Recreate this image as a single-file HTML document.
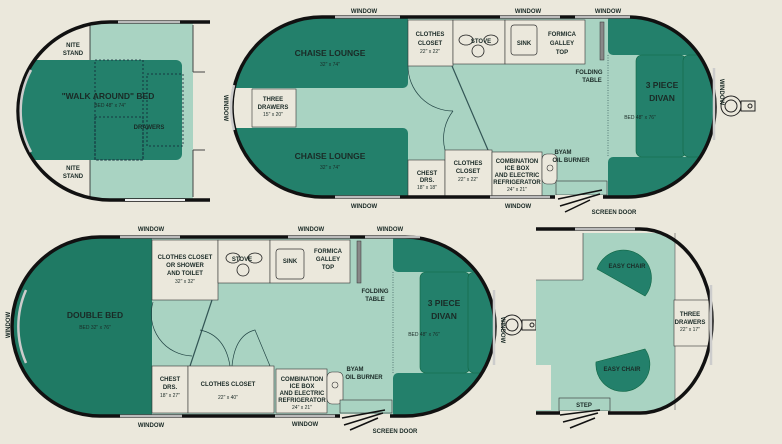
<!DOCTYPE html>
<html><head><meta charset="utf-8"><style>
html,body{margin:0;padding:0;background:#ebe8dc;}
svg{display:block}
text{font-family:"Liberation Sans",sans-serif;font-weight:bold;fill:#1a2a26;text-anchor:middle}
.s{font-size:6px}.m{font-size:8.5px}.t{font-size:5px;font-weight:normal}
</style></head><body>
<svg width="782" height="444" viewBox="0 0 782 444" xmlns="http://www.w3.org/2000/svg">
<rect width="782" height="444" fill="#ebe8dc"/>
<defs>
<clipPath id="c1"><path d="M210 22 L110 22 A92 89 0 0 0 110 200 L210 200 Z"/></clipPath>
<clipPath id="c2"><path d="M322 17 L628 17 A87 90 0 0 1 628 197 L322 197 A90 90 0 0 1 322 17 Z"/></clipPath>
<clipPath id="c3"><path d="M100 237 L405 237 A90 89.5 0 0 1 405 416 L100 416 A88 89.5 0 0 1 100 237 Z"/></clipPath>
<clipPath id="c4"><path d="M536 229 L640 229 A72 92 0 0 1 640 413 L536 413 Z"/></clipPath>
</defs>

<!-- PLAN 1 -->
<g clip-path="url(#c1)">
<rect x="0" y="0" width="210" height="220" fill="#ebe8dc"/>
<rect x="90" y="22" width="103" height="178" fill="#a9d3c2"/>
<rect x="20" y="60" width="162" height="100" rx="6" fill="#23806b"/>
<rect x="20" y="60" width="30" height="100" fill="#23806b"/>
</g>
<line x1="90" y1="25" x2="90" y2="60" stroke="#222" stroke-width="0.8"/>
<line x1="90" y1="160" x2="90" y2="197" stroke="#222" stroke-width="0.8"/>
<rect x="95" y="60" width="48" height="100" fill="none" stroke="#123" stroke-dasharray="2,2" stroke-width="0.8"/>
<rect x="95" y="117" width="48" height="43" fill="none" stroke="#123" stroke-dasharray="2,2" stroke-width="0.8"/>
<rect x="147" y="74" width="36" height="72" fill="none" stroke="#123" stroke-dasharray="2,2" stroke-width="0.8"/>
<line x1="193" y1="25" x2="193" y2="72" stroke="#444"/><line x1="193" y1="72" x2="205" y2="72" stroke="#444"/>
<line x1="193" y1="150" x2="193" y2="197" stroke="#444"/><line x1="193" y1="150" x2="205" y2="150" stroke="#444"/>
<path d="M210 22 L110 22 A92 89 0 0 0 110 200 L210 200" fill="none" stroke="#111" stroke-width="3.5"/>
<path d="M31 70 A92 89 0 0 0 31 152" fill="none" stroke="#ccc" stroke-width="2.5"/>
<line x1="118" y1="22" x2="180" y2="22" stroke="#bbb" stroke-width="2.5"/>
<line x1="125" y1="200" x2="185" y2="200" stroke="#eee" stroke-width="2"/>
<text class="s" x="73" y="47">NITE</text><text class="s" x="73" y="55">STAND</text>
<text class="s" x="73" y="170">NITE</text><text class="s" x="73" y="178">STAND</text>
<text class="m" x="108" y="99">"WALK AROUND"  BED</text>
<text class="t" x="110" y="107">BED 48" x 74"</text>
<text class="s" x="149" y="129">DRAWERS</text>

<!-- PLAN 2 -->
<g clip-path="url(#c2)">
<rect x="230" y="15" width="490" height="185" fill="#a9d3c2"/>
<rect x="230" y="15" width="178" height="73" rx="5" fill="#23806b"/>
<rect x="230" y="128" width="178" height="72" rx="5" fill="#23806b"/>
<rect x="230" y="88" width="22" height="40" fill="#ebe8dc"/>
<rect x="252" y="89" width="44" height="38" fill="#ebe8dc" stroke="#333" stroke-width="0.6"/>
<rect x="608" y="15" width="110" height="40" rx="5" fill="#23806b"/>
<rect x="608" y="157" width="110" height="45" rx="5" fill="#23806b"/>
<rect x="636" y="55" width="50" height="102" rx="6" fill="#23806b" stroke="#164" stroke-width="0.6"/>
<rect x="683" y="55" width="35" height="102" rx="6" fill="#23806b" stroke="#164" stroke-width="0.6"/>
</g>
<rect x="408" y="20" width="45" height="46" fill="#ebe8dc" stroke="#333" stroke-width="0.6"/>
<rect x="453" y="20" width="52" height="44" fill="#ebe8dc" stroke="#333" stroke-width="0.6"/>
<rect x="505" y="20" width="80" height="44" fill="#ebe8dc" stroke="#333" stroke-width="0.6"/>
<rect x="511" y="25" width="26" height="30" rx="3" fill="none" stroke="#333" stroke-width="0.7"/>
<ellipse cx="466" cy="40" rx="7" ry="5" fill="none" stroke="#222" stroke-width="0.8"/>
<ellipse cx="491" cy="40" rx="7" ry="5" fill="none" stroke="#222" stroke-width="0.8"/>
<circle cx="478" cy="51" r="6" fill="none" stroke="#222" stroke-width="0.8"/>
<rect x="600" y="22" width="4" height="38" fill="#888" stroke="#333" stroke-width="0.5"/>
<line x1="608" y1="55" x2="608" y2="157" stroke="#355" stroke-dasharray="1,1.5" stroke-width="0.7"/>
<path d="M408 66 A45 45 0 0 0 453 111" fill="none" stroke="#244" stroke-width="0.7"/>
<path d="M445 150 A45 45 0 0 1 453 111" fill="none" stroke="#244" stroke-width="0.7"/>
<line x1="452" y1="66" x2="488" y2="150" stroke="#355" stroke-width="1.2"/>
<rect x="408" y="160" width="37" height="36" fill="#ebe8dc" stroke="#333" stroke-width="0.6"/>
<rect x="445" y="150" width="47" height="46" fill="#ebe8dc" stroke="#333" stroke-width="0.6"/>
<rect x="492" y="152" width="50" height="44" fill="#ebe8dc" stroke="#333" stroke-width="0.6"/>
<rect x="542" y="154" width="15" height="30" rx="5" fill="#ebe8dc" stroke="#333" stroke-width="0.6"/>
<circle cx="550" cy="168" r="3" fill="none" stroke="#333" stroke-width="0.6"/>
<rect x="556" y="181" width="51" height="14" fill="#a9d3c2" stroke="#333" stroke-width="0.6"/>
<path d="M322 17 L628 17 A87 90 0 0 1 628 197 L322 197 A90 90 0 0 1 322 17 Z" fill="none" stroke="#111" stroke-width="3.5"/>
<line x1="335" y1="17" x2="400" y2="17" stroke="#bbb" stroke-width="2.5"/>
<line x1="500" y1="17" x2="560" y2="17" stroke="#bbb" stroke-width="2.5"/>
<line x1="575" y1="17" x2="630" y2="17" stroke="#bbb" stroke-width="2.5"/>
<line x1="335" y1="197" x2="400" y2="197" stroke="#bbb" stroke-width="2.5"/>
<line x1="490" y1="197" x2="550" y2="197" stroke="#bbb" stroke-width="2.5"/>
<line x1="555" y1="197" x2="603" y2="197" stroke="#ebe8dc" stroke-width="4"/>
<path d="M234 85 A90 90 0 0 0 234 130" fill="none" stroke="#ccc" stroke-width="2.5"/>
<line x1="714" y1="68" x2="714" y2="140" stroke="#ccc" stroke-width="2.5"/>
<path d="M558 199 L602 190 M560 206 L600 194 M565 212 L590 200" stroke="#111" stroke-width="1.5"/>
<circle cx="731" cy="106" r="10" fill="#ebe8dc" stroke="#222"/><circle cx="731" cy="106" r="6" fill="none" stroke="#222"/>
<rect x="741" y="101" width="14" height="10" fill="none" stroke="#222"/><circle cx="750" cy="106" r="2" fill="none" stroke="#222"/>
<text class="m" x="330" y="56">CHAISE LOUNGE</text><text class="t" x="330" y="66">32" x 74"</text>
<text class="m" x="330" y="159">CHAISE LOUNGE</text><text class="t" x="330" y="169">32" x 74"</text>
<text class="s" x="273" y="101">THREE</text><text class="s" x="273" y="109">DRAWERS</text><text class="t" x="273" y="116">15" x 20"</text>
<text class="s" x="430" y="36">CLOTHES</text><text class="s" x="430" y="45">CLOSET</text><text class="t" x="430" y="53">22" x 22"</text>
<text class="s" x="481" y="43">STOVE</text><text class="s" x="524" y="45">SINK</text>
<text class="s" x="562" y="36">FORMICA</text><text class="s" x="562" y="45">GALLEY</text><text class="s" x="562" y="54">TOP</text>
<text class="s" x="589" y="74">FOLDING</text><text class="s" x="592" y="82">TABLE</text>
<text class="m" x="662" y="88">3 PIECE</text><text class="m" x="662" y="101">DIVAN</text>
<text class="t" x="640" y="119">BED 48" x 76"</text>
<text class="s" x="427" y="175">CHEST</text><text class="s" x="427" y="182">DRS.</text><text class="t" x="427" y="189">18" x 18"</text>
<text class="s" x="468" y="165">CLOTHES</text><text class="s" x="468" y="173">CLOSET</text><text class="t" x="468" y="181">22" x 22"</text>
<text class="s" x="517" y="163">COMBINATION</text><text class="s" x="517" y="170">ICE BOX</text><text class="s" x="517" y="177">AND ELECTRIC</text><text class="s" x="517" y="184">REFRIGERATOR</text><text class="t" x="517" y="191">24" x 21"</text>
<text class="s" x="563" y="154">BYAM</text><text class="s" x="571" y="162">OIL BURNER</text>
<text class="s" x="364" y="13">WINDOW</text><text class="s" x="528" y="13">WINDOW</text><text class="s" x="608" y="13">WINDOW</text>
<text class="s" x="364" y="208">WINDOW</text><text class="s" x="518" y="208">WINDOW</text><text class="s" x="614" y="214">SCREEN DOOR</text>
<text class="s" transform="translate(224 108) rotate(90)">WINDOW</text>
<text class="s" transform="translate(720 92) rotate(90)">WINDOW</text>

<!-- PLAN 3 -->
<g clip-path="url(#c3)">
<rect x="10" y="235" width="490" height="185" fill="#a9d3c2"/>
<rect x="10" y="235" width="142" height="185" fill="#1f7a64"/>
<rect x="393" y="235" width="105" height="37" rx="5" fill="#23806b"/>
<rect x="393" y="373" width="105" height="45" rx="5" fill="#23806b"/>
<rect x="420" y="272" width="50" height="101" rx="6" fill="#23806b" stroke="#164" stroke-width="0.6"/>
<rect x="468" y="272" width="30" height="101" rx="6" fill="#23806b" stroke="#164" stroke-width="0.6"/>
</g>
<rect x="152" y="240" width="66" height="60" fill="#ebe8dc" stroke="#333" stroke-width="0.6"/>
<rect x="218" y="240" width="52" height="43" fill="#ebe8dc" stroke="#333" stroke-width="0.6"/>
<rect x="270" y="240" width="80" height="43" fill="#ebe8dc" stroke="#333" stroke-width="0.6"/>
<rect x="276" y="249" width="28" height="30" rx="3" fill="none" stroke="#333" stroke-width="0.7"/>
<ellipse cx="233" cy="258" rx="7" ry="5" fill="none" stroke="#222" stroke-width="0.8"/>
<ellipse cx="255" cy="258" rx="7" ry="5" fill="none" stroke="#222" stroke-width="0.8"/>
<circle cx="243" cy="270" r="6" fill="none" stroke="#222" stroke-width="0.8"/>
<rect x="357" y="241" width="4" height="42" fill="#888" stroke="#333" stroke-width="0.5"/>
<line x1="393" y1="272" x2="393" y2="373" stroke="#355" stroke-dasharray="1,1.5" stroke-width="0.7"/>
<path d="M153 302 A42 42 0 0 0 192 356" fill="none" stroke="#244" stroke-width="0.7"/>
<line x1="212" y1="300" x2="190" y2="366" stroke="#355" stroke-width="1.2"/>
<path d="M200 330 Q225 335 230 366 M232 366 Q235 335 255 330 L270 366" fill="none" stroke="#244" stroke-width="0.7"/>
<rect x="152" y="366" width="36" height="47" fill="#ebe8dc" stroke="#333" stroke-width="0.6"/>
<rect x="188" y="366" width="86" height="47" fill="#ebe8dc" stroke="#333" stroke-width="0.6"/>
<rect x="276" y="369" width="51" height="44" fill="#ebe8dc" stroke="#333" stroke-width="0.6"/>
<rect x="327" y="372" width="16" height="32" rx="5" fill="#ebe8dc" stroke="#333" stroke-width="0.6"/>
<circle cx="335" cy="385" r="3" fill="none" stroke="#333" stroke-width="0.6"/>
<rect x="340" y="400" width="52" height="13" fill="#a9d3c2" stroke="#333" stroke-width="0.6"/>
<path d="M100 237 L405 237 A90 89.5 0 0 1 405 416 L100 416 A88 89.5 0 0 1 100 237 Z" fill="none" stroke="#111" stroke-width="3.5"/>
<line x1="120" y1="237" x2="180" y2="237" stroke="#bbb" stroke-width="2.5"/>
<line x1="288" y1="237" x2="350" y2="237" stroke="#bbb" stroke-width="2.5"/>
<line x1="365" y1="237" x2="420" y2="237" stroke="#bbb" stroke-width="2.5"/>
<line x1="120" y1="416" x2="182" y2="416" stroke="#bbb" stroke-width="2.5"/>
<line x1="275" y1="416" x2="335" y2="416" stroke="#bbb" stroke-width="2.5"/>
<line x1="340" y1="416" x2="390" y2="416" stroke="#ebe8dc" stroke-width="4"/>
<path d="M26 290 A88 89.5 0 0 0 26 363" fill="none" stroke="#ccc" stroke-width="2.5"/>
<line x1="494" y1="290" x2="494" y2="365" stroke="#ccc" stroke-width="2.5"/>
<path d="M342 418 L385 410 M344 425 L383 413 M350 430 L378 418" stroke="#111" stroke-width="1.5"/>
<circle cx="512" cy="325" r="10" fill="#ebe8dc" stroke="#222"/><circle cx="512" cy="325" r="6" fill="none" stroke="#222"/>
<rect x="522" y="320" width="14" height="10" fill="none" stroke="#222"/><circle cx="532" cy="325" r="2" fill="none" stroke="#222"/>
<text class="m" x="95" y="318">DOUBLE BED</text><text class="t" x="95" y="329">BED 32" x 76"</text>
<text class="s" x="185" y="259">CLOTHES CLOSET</text><text class="s" x="185" y="267">OR SHOWER</text><text class="s" x="185" y="275">AND TOILET</text><text class="t" x="185" y="283">32" x 32"</text>
<text class="s" x="242" y="261">STOVE</text><text class="s" x="290" y="263">SINK</text>
<text class="s" x="328" y="253">FORMICA</text><text class="s" x="328" y="261">GALLEY</text><text class="s" x="328" y="269">TOP</text>
<text class="s" x="375" y="293">FOLDING</text><text class="s" x="375" y="301">TABLE</text>
<text class="m" x="444" y="306">3 PIECE</text><text class="m" x="444" y="319">DIVAN</text>
<text class="t" x="424" y="336">BED 48" x 76"</text>
<text class="s" x="170" y="381">CHEST</text><text class="s" x="170" y="389">DRS.</text><text class="t" x="170" y="397">18" x 27"</text>
<text class="s" x="228" y="386">CLOTHES CLOSET</text><text class="t" x="228" y="399">22" x 40"</text>
<text class="s" x="302" y="381">COMBINATION</text><text class="s" x="302" y="388">ICE BOX</text><text class="s" x="302" y="395">AND ELECTRIC</text><text class="s" x="302" y="402">REFRIGERATOR</text><text class="t" x="302" y="409">24" x 21"</text>
<text class="s" x="355" y="371">BYAM</text><text class="s" x="364" y="379">OIL BURNER</text>
<text class="s" x="151" y="231">WINDOW</text><text class="s" x="311" y="231">WINDOW</text><text class="s" x="390" y="231">WINDOW</text>
<text class="s" x="151" y="427">WINDOW</text><text class="s" x="305" y="426">WINDOW</text><text class="s" x="395" y="433">SCREEN DOOR</text>
<text class="s" transform="translate(10 325) rotate(-90)">WINDOW</text>
<text class="s" transform="translate(501 330) rotate(90)">WINDOW</text>

<!-- PLAN 4 -->
<g clip-path="url(#c4)">
<rect x="536" y="229" width="180" height="186" fill="#ebe8dc"/>
<rect x="536" y="233" width="139" height="178" fill="#a9d3c2"/>
<rect x="536" y="233" width="47" height="47" fill="#ebe8dc"/>
<rect x="536" y="365" width="15" height="45" fill="#ebe8dc"/>
</g>
<line x1="536" y1="280" x2="583" y2="280" stroke="#333" stroke-width="0.6"/>
<line x1="583" y1="233" x2="583" y2="280" stroke="#333" stroke-width="0.6"/>
<line x1="675" y1="233" x2="675" y2="410" stroke="#555" stroke-width="0.6"/>
<rect x="674" y="300" width="35" height="46" fill="#ebe8dc" stroke="#333" stroke-width="0.6"/>
<rect x="559" y="398" width="51" height="13" fill="#a9d3c2" stroke="#333" stroke-width="0.6"/>
<path d="M597 269 A28 28 0 1 1 645 296 Z" fill="#23806b" stroke="#164" stroke-width="0.6"/>
<path d="M596 362 A27 27 0 1 0 645 349 Z" fill="#23806b" stroke="#164" stroke-width="0.6"/>
<path d="M536 229 L640 229 A72 92 0 0 1 640 413 L536 413" fill="none" stroke="#111" stroke-width="3.5"/>
<line x1="575" y1="229" x2="635" y2="229" stroke="#bbb" stroke-width="2.5"/>
<line x1="711" y1="285" x2="711" y2="365" stroke="#ccc" stroke-width="2.5"/>
<line x1="560" y1="413" x2="608" y2="413" stroke="#ebe8dc" stroke-width="4"/>
<path d="M560 415 L600 410 M563 422 L598 413 M570 428 L595 418" stroke="#111" stroke-width="1.5"/>
<text class="s" x="627" y="268">EASY CHAIR</text><text class="s" x="622" y="371">EASY CHAIR</text>
<text class="s" x="690" y="316">THREE</text><text class="s" x="690" y="324">DRAWERS</text><text class="t" x="690" y="331">22" x 17"</text>
<text class="s" x="584" y="407">STEP</text>
</svg>
</body></html>
